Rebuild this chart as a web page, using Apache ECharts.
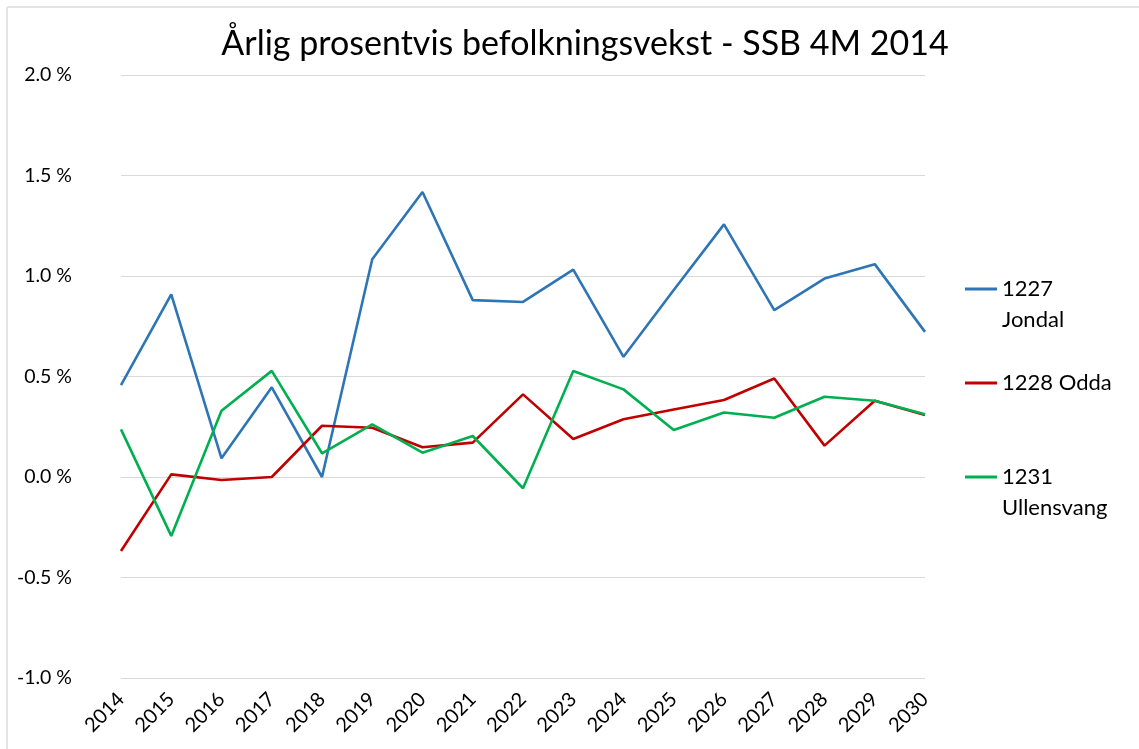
<!DOCTYPE html>
<html>
<head>
<meta charset="utf-8">
<script src="https://cdn.jsdelivr.net/npm/echarts@6/dist/echarts.min.js"></script>
<style>
  html, body { margin: 0; padding: 0; background: #fff; }
  #chart { width: 1139px; height: 749px; }
</style>
</head>
<body>
<div id="chart"></div>
<script>
// data
var years = ["2014", "2015", "2016", "2017", "2018", "2019", "2020", "2021", "2022",
  "2023", "2024", "2025", "2026", "2027", "2028", "2029", "2030"];
var jondal = [0.457, 0.908, 0.093, 0.446, 0.0, 1.083, 1.418, 0.88, 0.871,
  1.032, 0.598, 0.93, 1.257, 0.83, 0.987, 1.059, 0.722];
var odda = [-0.368, 0.013, -0.015, 0.0, 0.255, 0.245, 0.148, 0.171, 0.411,
  0.189, 0.287, 0.336, 0.383, 0.49, 0.156, 0.379, 0.308];
var ullensvang = [0.237, -0.293, 0.33, 0.528, 0.118, 0.262, 0.121, 0.204, -0.056,
  0.527, 0.436, 0.234, 0.321, 0.295, 0.399, 0.379, 0.312];
var yTicks = [-1.0, -0.5, 0.0, 0.5, 1.0, 1.5, 2.0];

var font = "Lato";
var LH = 31;

var myChart = echarts.init(document.getElementById("chart"));

// one legend per series so each can sit where the reference puts it;
// two-line names get an empty first line so the icon lines up with the number
function legendItem(name, label, top) {
  return {
    orient: "vertical",
    left: 965,
    top: top,
    padding: 0,
    icon: "rect",
    itemWidth: 32,
    itemHeight: 3,
    selectedMode: false,
    formatter: function () { return label; },
    textStyle: {
      fontFamily: font,
      fontSize: 22,
      color: "#000",
      lineHeight: LH
    },
    data: [name]
  };
}

var option = {
  backgroundColor: "#fff",
  animation: false,
  // faint chart-area frame (only top and left edges are visible in the reference)
  graphic: [
    {
      type: "line", silent: true,
      shape: { x1: 7, y1: 7, x2: 1139, y2: 7 },
      style: { stroke: "#e4e4e4", lineWidth: 2 }
    },
    {
      type: "line", silent: true,
      shape: { x1: 7, y1: 7, x2: 7, y2: 749 },
      style: { stroke: "#e4e4e4", lineWidth: 2 }
    }
  ],
  title: {
    text: "Årlig prosentvis befolkningsvekst - SSB 4M 2014",
    left: 580,
    textAlign: "center",
    top: 22,
    textStyle: { fontFamily: font, fontSize: 34, fontWeight: "normal", color: "#000" }
  },
  legend: [
    legendItem("1227 Jondal", "\n1227\nJondal", 289 - 1.5 * LH),
    legendItem("1228 Odda", "1228 Odda", 383 - LH / 2),
    legendItem("1231 Ullensvang", "\n1231\nUllensvang", 477 - 1.5 * LH)
  ],
  grid: { left: 121, right: 214, top: 75, bottom: 71 },
  xAxis: {
    type: "category",
    data: years,
    boundaryGap: false,
    axisLine: { show: false },
    axisTick: { show: false },
    axisLabel: {
      rotate: 45,
      margin: 18,
      fontFamily: font,
      fontSize: 20,
      color: "#000"
    }
  },
  yAxis: {
    type: "value",
    min: yTicks[0],
    max: yTicks[yTicks.length - 1],
    interval: 0.5,
    axisLine: { show: false },
    axisTick: { show: false },
    splitLine: { lineStyle: { color: "#d9d9d9", width: 1 } },
    axisLabel: {
      margin: 49,
      fontFamily: font,
      fontSize: 19.5,
      color: "#000",
      formatter: function (v) { return v.toFixed(1) + " %"; }
    }
  },
  series: [
    {
      name: "1227 Jondal", type: "line", data: jondal, symbol: "none",
      itemStyle: { color: "#2e75b6" }, lineStyle: { width: 2.6, color: "#2e75b6" }
    },
    {
      name: "1228 Odda", type: "line", data: odda, symbol: "none",
      itemStyle: { color: "#c00000" }, lineStyle: { width: 2.6, color: "#c00000" }
    },
    {
      name: "1231 Ullensvang", type: "line", data: ullensvang, symbol: "none",
      itemStyle: { color: "#00b050" }, lineStyle: { width: 2.6, color: "#00b050" }
    }
  ]
};

myChart.setOption(option);
</script>
</body>
</html>
